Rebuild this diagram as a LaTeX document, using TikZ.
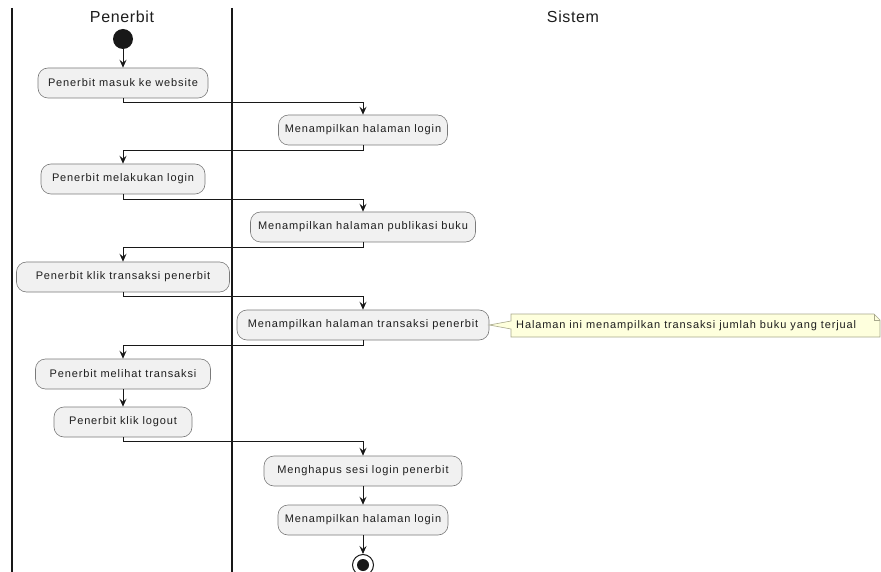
\documentclass[tikz,border=0pt]{standalone}
\usepackage{fontspec}
\setmainfont{Liberation Sans}
\newfontfamily\actfont{Liberation Sans}[LetterSpace=8]
\newfontfamily\lanefont{Liberation Sans}[LetterSpace=4]
\usetikzlibrary{arrows.meta}
\definecolor{ink}{HTML}{181818}
\definecolor{actfill}{HTML}{F1F1F1}
\definecolor{actline}{HTML}{7A7A7A}
\definecolor{notefill}{HTML}{FEFFDD}
\definecolor{noteline}{HTML}{A8A88C}
\definecolor{txt}{HTML}{1E1E1E}
\tikzset{
  act/.style={draw=actline, fill=actfill, line width=0.6pt, rounded corners=10pt,
    minimum height=30pt, inner sep=0pt, text=txt,
    font=\actfont\fontsize{11}{13}\selectfont},
  flow/.style={draw=ink, line width=0.9pt,
    -{Stealth[length=8pt,width=7pt,inset=3pt]}},
  lane/.style={draw=ink, line width=1.3pt},
  lanetitle/.style={text=txt, font=\lanefont\fontsize{16}{19}\selectfont},
  notetext/.style={text=txt, inner sep=0pt, font=\actfont\fontsize{11}{13}\selectfont},
}
\begin{document}
\begin{tikzpicture}[x=1pt,y=-1pt]
\useasboundingbox (0,0) rectangle (881,572);
\clip (0,0) rectangle (881,572);
\fill[white] (0,0) rectangle (881,572);

% swimlane separators and titles
\coordinate (laneAtop) at (12,8);   \coordinate (laneAbot) at (12,572);
\coordinate (laneBtop) at (232,8);  \coordinate (laneBbot) at (232,572);
\draw[lane] (laneAtop) -- (laneAbot);
\draw[lane] (laneBtop) -- (laneBbot);
\node[lanetitle] (tPenerbit) at (122,17) {Penerbit};
\node[lanetitle] (tSistem) at (573,17) {Sistem};

% start
\node[circle, fill=ink, minimum size=20pt, inner sep=0pt] (start) at (123,39) {};

% activities
\node[act, minimum width=170pt] (a1) at (123,83)  {Penerbit masuk ke website};
\node[act, minimum width=169pt] (s1) at (363,130) {Menampilkan halaman login};
\node[act, minimum width=164pt] (a2) at (123,179) {Penerbit melakukan login};
\node[act, minimum width=225pt] (s2) at (363,227) {Menampilkan halaman publikasi buku};
\node[act, minimum width=213pt] (a3) at (123,277) {Penerbit klik transaksi penerbit};
\node[act, minimum width=252pt] (s3) at (363,325) {Menampilkan halaman transaksi penerbit};
\node[act, minimum width=175pt] (a4) at (123,374) {Penerbit melihat transaksi};
\node[act, minimum width=138pt] (a5) at (123,422) {Penerbit klik logout};
\node[act, minimum width=198pt] (s4) at (363,471) {Menghapus sesi login penerbit};
\node[act, minimum width=170pt] (s5) at (363,520) {Menampilkan halaman login};

% end
\node[circle, draw=ink, fill=white, line width=1pt, minimum size=21pt, inner sep=0pt] (stop) at (363,565) {};
\node[circle, fill=ink, minimum size=12pt, inner sep=0pt] at (stop.center) {};

% note on the transaction page
\draw[draw=noteline, fill=notefill, line width=0.6pt]
  (511,314) -- (874,314) -- (880,320) -- (880,337) -- (511,337) -- (511,329)
  -- (s3.east) -- (511,321) -- cycle;
\draw[draw=noteline, line width=0.6pt] (874,314) -- (874,320) -- (880,320);
\node[notetext, anchor=west] (note) at (516,325.5) {Halaman ini menampilkan transaksi jumlah buku yang terjual};

% control flow
\draw[flow] (start) -- (a1);
\draw[flow] (a1.south) -- ++(0,4) -| (s1.north);
\draw[flow] (s1.south) -- ++(0,5) -| (a2.north);
\draw[flow] (a2.south) -- ++(0,5) -| (s2.north);
\draw[flow] (s2.south) -- ++(0,5) -| (a3.north);
\draw[flow] (a3.south) -- ++(0,4) -| (s3.north);
\draw[flow] (s3.south) -- ++(0,5) -| (a4.north);
\draw[flow] (a4) -- (a5);
\draw[flow] (a5.south) -- ++(0,4) -| (s4.north);
\draw[flow] (s4) -- (s5);
\draw[flow] (s5) -- (stop);
\end{tikzpicture}
\end{document}
